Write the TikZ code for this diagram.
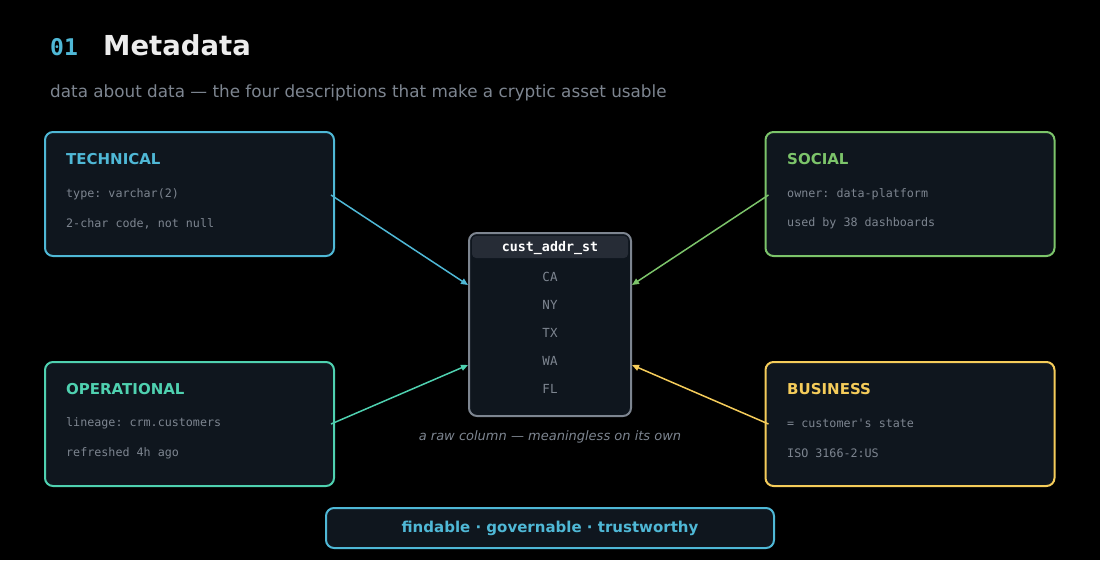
\documentclass[tikz,border=0pt]{standalone}
\usepackage{fontspec}
\setmainfont{DejaVu Sans}
\setsansfont{DejaVu Sans}
\setmonofont{DejaVu Sans Mono}
\usetikzlibrary{arrows.meta,calc}
\definecolor{bg}{HTML}{000000}
\definecolor{panel}{HTML}{0F161E}
\definecolor{hdr}{HTML}{262C36}
\definecolor{cy}{HTML}{4FB8D6}
\definecolor{gr}{HTML}{7CC46A}
\definecolor{tl}{HTML}{4FD1B0}
\definecolor{yl}{HTML}{F5CC5A}
\definecolor{gry}{HTML}{7D8590}
\definecolor{bord}{HTML}{7D8590}
\definecolor{ttl}{HTML}{ECECEC}
\tikzset{
  x=1pt,y=-1pt,
  card/.style={draw=#1,line width=2pt,fill=panel,rounded corners=8pt,minimum width=289pt,minimum height=124pt,inner sep=0pt},
  cardhead/.style={anchor=west,text=#1,font=\fontsize{15}{15}\selectfont\bfseries,inner sep=0pt},
  cardline/.style={anchor=west,text=gry,font=\ttfamily\fontsize{11.7}{12}\selectfont,inner sep=0pt},
  val/.style={text=gry,font=\ttfamily\fontsize{12.5}{13}\selectfont,inner sep=0pt},
  link/.style={draw=#1,line width=1.5pt,-{Triangle[length=7pt,width=6pt]}},
}
\begin{document}
\begin{tikzpicture}
\useasboundingbox (0,0) rectangle (1100,560);
\fill[bg] (0,0) rectangle (1100,560);
% title
\node[anchor=base west,inner sep=0pt,text=cy,font=\ttfamily\bfseries\fontsize{23}{24}\selectfont] (num) at (50,55) {01};
\node[anchor=base west,inner sep=0pt,text=ttl,font=\bfseries\fontsize{27.5}{28}\selectfont] (title) at (103,55) {Metadata};
\node[anchor=base west,inner sep=0pt,text=gry,font=\fontsize{16.8}{18}\selectfont] (sub) at (50,97) {data about data — the four descriptions that make a cryptic asset usable};
% cards
\node[card=cy] (tech) at (189.5,194) {};
\node[card=gr] (soc) at (910,194) {};
\node[card=tl] (ops) at (189.5,424) {};
\node[card=yl] (bus) at (910,424) {};
\node[cardhead=cy] at (66,159.5) {TECHNICAL};
\node[cardline] at (66,194.5) {type: varchar(2)};
\node[cardline] at (66,223.5) {2-char code, not null};
\node[cardhead=gr] at (787,159.5) {SOCIAL};
\node[cardline] at (787,194.5) {owner: data-platform};
\node[cardline] at (787,223.5) {used by 38 dashboards};
\node[cardhead=tl] at (66,389.5) {OPERATIONAL};
\node[cardline] at (66,423.5) {lineage: crm.customers};
\node[cardline] at (66,453) {refreshed 4h ago};
\node[cardhead=yl] at (787,389.5) {BUSINESS};
\node[cardline] at (787,423.5) {= customer's state};
\node[cardline] at (787,453) {ISO 3166-2:US};
% center column
\node[draw=bord,line width=2pt,fill=panel,rounded corners=8pt,minimum width=162pt,minimum height=183pt,inner sep=0pt] (col) at (550,324.5) {};
\fill[hdr,rounded corners=4pt] (472,236) rectangle (628,258);
\node[text=white,font=\ttfamily\bfseries\fontsize{13.3}{14}\selectfont,inner sep=0pt] (colname) at (550,248) {cust\_addr\_st};
\node[val] (v1) at (550,277) {CA};
\node[val] (v2) at (550,305) {NY};
\node[val] (v3) at (550,333) {TX};
\node[val] (v4) at (550,361) {WA};
\node[val] (v5) at (550,389) {FL};
\node[text=gry,font=\itshape\fontsize{13}{13}\selectfont,inner sep=0pt] (cap) at (550,437) {a raw column — meaningless on its own};
% connectors
\coordinate (tOut) at ($(tech.east)+(-4,1)$);
\coordinate (sOut) at ($(soc.west)+(4,1)$);
\coordinate (oOut) at ($(ops.east)+(-4,0)$);
\coordinate (bOut) at ($(bus.west)+(4,0)$);
\coordinate (cTL) at ($(col.west)+(0,-39.5)$);
\coordinate (cBL) at ($(col.west)+(0,40.5)$);
\coordinate (cTR) at ($(col.east)+(0,-39.5)$);
\coordinate (cBR) at ($(col.east)+(0,40.5)$);
\draw[link=cy] (tOut) -- (cTL);
\draw[link=gr] (sOut) -- (cTR);
\draw[link=tl] (oOut) -- (cBL);
\draw[link=yl] (bOut) -- (cBR);
% footer
\node[draw=cy,line width=2pt,fill=panel,rounded corners=8pt,minimum width=448pt,minimum height=40pt,inner sep=0pt,text=cy,font=\bfseries\fontsize{15}{15}\selectfont] (foot) at (550,528) {findable · governable · trustworthy};
\end{tikzpicture}
\end{document}
